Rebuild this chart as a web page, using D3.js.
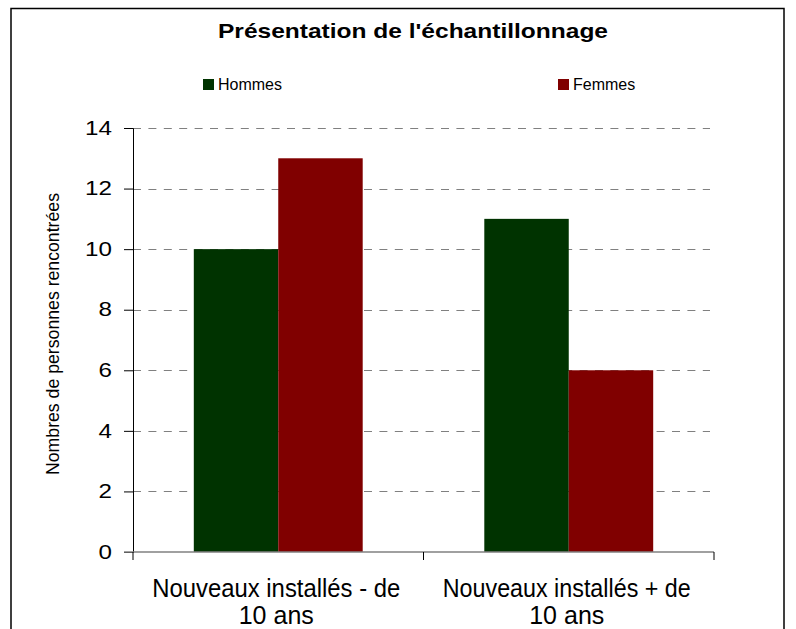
<!DOCTYPE html>
<html>
<head>
<meta charset="utf-8">
<script src="https://cdn.jsdelivr.net/npm/d3@7"></script>
<style>
  body { margin: 0; background: #fff; }
  text { font-family: "Liberation Sans", Arial, sans-serif; }
</style>
</head>
<body>
<script>
const categories = ["Nouveaux installés - de 10 ans", "Nouveaux installés + de 10 ans"];
const categoryLines = [["Nouveaux installés - de", "10 ans"], ["Nouveaux installés + de", "10 ans"]];
const seriesNames = ["Hommes", "Femmes"];
const hommes = [10, 11];
const femmes = [13, 6];
const yTicks = [0, 2, 4, 6, 8, 10, 12, 14];
const colors = {Hommes: "#003300", Femmes: "#800000"};

const W = 796, H = 629;
const margin = {top: 128, right: 82, bottom: 77, left: 133},
    width = 714 - margin.left,
    height = 552 - margin.top;

const svg = d3.select("body").append("svg")
    .attr("width", W)
    .attr("height", H);

// chart frame
svg.append("rect")
    .attr("x", 11).attr("y", 8.5)
    .attr("width", 773).attr("height", H + 10)
    .attr("fill", "none")
    .attr("stroke", "#000")
    .attr("stroke-width", 1.5);

svg.append("text")
    .attr("x", 413).attr("y", 38)
    .attr("text-anchor", "middle")
    .attr("textLength", 390)
    .attr("lengthAdjust", "spacingAndGlyphs")
    .style("font-size", "21px")
    .style("font-weight", "bold")
    .text("Présentation de l'échantillonnage");

// legend
const legendX = [203, 558];
const legend = svg.selectAll(".legend")
    .data(seriesNames)
    .enter().append("g")
    .attr("class", "legend")
    .attr("transform", (d, i) => "translate(" + legendX[i] + ",79)");
legend.append("rect")
    .attr("width", 11).attr("height", 11)
    .attr("fill", d => colors[d]);
legend.append("text")
    .attr("x", 15).attr("y", 11)
    .style("font-size", "16px")
    .text(d => d);

const g = svg.append("g")
    .attr("transform", "translate(" + margin.left + "," + margin.top + ")");

const x0 = d3.scaleBand()
    .domain(categories)
    .range([0, width])
    .padding(0);
const x1 = d3.scaleBand()
    .domain(seriesNames)
    .range([0, x0.bandwidth()])
    .paddingInner(0)
    .paddingOuter(0.72);
const y = d3.scaleLinear()
    .domain([0, 14])
    .range([height, 0]);

// gridlines
g.selectAll(".grid")
    .data(yTicks.filter(d => d > 0))
    .enter().append("line")
    .attr("class", "grid")
    .attr("x1", 0).attr("x2", width - 4)
    .attr("y1", d => Math.round(y(d)) + 0.5)
    .attr("y2", d => Math.round(y(d)) + 0.5)
    .attr("stroke", "#808080")
    .attr("stroke-width", 1)
    .attr("stroke-dasharray", "8,7.4");

const data = categories.map((c, i) => ({cat: c, values: [
    {key: "Hommes", v: hommes[i]},
    {key: "Femmes", v: femmes[i]}
]}));

g.selectAll(".group")
    .data(data)
    .enter().append("g")
    .attr("class", "group")
    .attr("transform", d => "translate(" + x0(d.cat) + ",0)")
    .selectAll("rect")
    .data(d => d.values)
    .enter().append("rect")
    .attr("x", d => x1(d.key))
    .attr("width", x1.bandwidth())
    .attr("y", d => y(d.v))
    .attr("height", d => height - y(d.v))
    .attr("fill", d => colors[d.key]);

// y axis
const yAxis = d3.axisLeft(y)
    .tickValues(yTicks)
    .tickSize(9)
    .tickPadding(12);
const ya = g.append("g").call(yAxis);
ya.select(".domain").attr("stroke", "#000");
ya.selectAll(".tick line").attr("stroke", "#000");
ya.selectAll(".tick text")
    .style("font-size", "19.5px")
    .style("font-family", "'Liberation Sans', Arial, sans-serif")
    .attr("fill", "#000")
    .each(function() {
        // the reference digits are drawn a little wide
        const w = this.getComputedTextLength();
        d3.select(this).attr("textLength", w * 1.24)
            .attr("lengthAdjust", "spacingAndGlyphs");
    });

// x axis
g.append("line")
    .attr("x1", -9).attr("x2", width)
    .attr("y1", height).attr("y2", height)
    .attr("stroke", "#808080").attr("stroke-width", 1.5);
g.selectAll(".xtick")
    .data([0, 1, 2])
    .enter().append("line")
    .attr("class", "xtick")
    .attr("x1", d => d * x0.step()).attr("x2", d => d * x0.step())
    .attr("y1", height).attr("y2", height + 8)
    .attr("stroke", "#000");

const labels = g.selectAll(".xlabel")
    .data(categories)
    .enter().append("text")
    .attr("class", "xlabel")
    .attr("text-anchor", "middle")
    .attr("transform", d => "translate(" + (x0(d) + x0.bandwidth() / 2 - 2) + "," + (height + 45) + ")")
    .style("font-size", "25px");
labels.selectAll("tspan")
    .data((d, i) => categoryLines[i])
    .enter().append("tspan")
    .attr("x", 0)
    .attr("dy", (d, i) => i === 0 ? 0 : 27)
    .text(d => d);
labels.selectAll("tspan").filter((d, i) => i === 0)
    .attr("textLength", 248)
    .attr("lengthAdjust", "spacingAndGlyphs");

// y axis title
svg.append("text")
    .attr("transform", "translate(59,334) rotate(-90)")
    .attr("text-anchor", "middle")
    .attr("textLength", 282)
    .attr("lengthAdjust", "spacingAndGlyphs")
    .style("font-size", "18.5px")
    .text("Nombres de personnes rencontrées");
</script>
</body>
</html>
